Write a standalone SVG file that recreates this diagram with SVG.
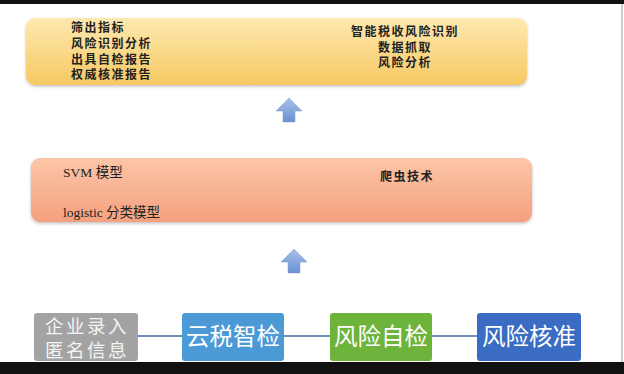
<svg xmlns="http://www.w3.org/2000/svg" width="624" height="374" viewBox="0 0 624 374">
<defs>
<linearGradient id="gy" x1="0" y1="0" x2="0" y2="1"><stop offset="0" stop-color="#fde9b0"/><stop offset="1" stop-color="#f7c862"/></linearGradient>
<linearGradient id="gs" x1="0" y1="0" x2="0" y2="1"><stop offset="0" stop-color="#fbc6a8"/><stop offset="1" stop-color="#f5a07e"/></linearGradient>
<linearGradient id="ga" x1="0" y1="0" x2="0" y2="1"><stop offset="0" stop-color="#a9c1ea"/><stop offset="1" stop-color="#6a8fd2"/></linearGradient>
<filter id="sh" x="-5%" y="-10%" width="110%" height="130%"><feDropShadow dx="0" dy="1.5" stdDeviation="1.5" flood-color="#000" flood-opacity="0.25"/></filter>
</defs>
<style>
.t{font-family:"Noto Sans CJK SC","Liberation Sans",sans-serif;font-size:12px;letter-spacing:1.5px;fill:#222;font-weight:600}
.s{font-family:"Liberation Serif","Noto Sans CJK SC",serif;font-size:13.5px;fill:#222}
.b{font-family:"Noto Sans CJK SC",sans-serif;font-size:23.5px;fill:#fff;text-anchor:middle}
.g{font-family:"Noto Sans CJK SC",sans-serif;font-size:18.5px;letter-spacing:2.5px;fill:#f4f4f4;text-anchor:middle}
.c{stroke:#6d8fb8;stroke-width:2;fill:none}
</style>
<rect width="624" height="374" fill="#fff"/>
<rect x="0" y="0" width="624" height="4" fill="#111"/>
<rect x="0" y="362" width="624" height="12" fill="#111"/>
<line x1="622" y1="4" x2="622" y2="362" stroke="#bbb" stroke-width="1.5"/>

<g id="top">
<rect x="26" y="18" width="501" height="67" rx="9" fill="url(#gy)" filter="url(#sh)"/>
<text class="t" x="71" y="32">筛出指标</text>
<text class="t" x="71" y="48">风险识别分析</text>
<text class="t" x="71" y="63.5">出具自检报告</text>
<text class="t" x="71" y="79">权威核准报告</text>
<text class="t" x="405" y="36" text-anchor="middle">智能税收风险识别</text>
<text class="t" x="405" y="51.5" text-anchor="middle">数据抓取</text>
<text class="t" x="405" y="67" text-anchor="middle">风险分析</text>
</g>

<g id="mid">
<rect x="31" y="158" width="501" height="64" rx="9" fill="url(#gs)" filter="url(#sh)"/>
<text class="s" x="63" y="177">SVM 模型</text>
<text class="t" x="380" y="181">爬虫技术</text>
<text class="s" x="63" y="217">logistic 分类模型</text>
</g>

<g id="arrow1"><polygon points="289,98 302,111 295,111 295,122 283,122 283,111 276,111" fill="url(#ga)" stroke="#7c98c8" stroke-width="0.5"/></g>
<g id="arrow2"><polygon points="294,249 307,262 300,262 300,273 288,273 288,262 281,262" fill="url(#ga)" stroke="#7c98c8" stroke-width="0.5"/></g>

<g id="connectors">
<line class="c" x1="137" y1="336" x2="182" y2="336"/>
<line class="c" x1="284" y1="336" x2="330" y2="336"/>
<line class="c" x1="432" y1="336" x2="477" y2="336"/>
</g>

<g id="n1"><rect x="34" y="313" width="104" height="48" rx="3" fill="#a3a3a3"/>
<text class="g" x="87" y="333">企业录入</text><text class="g" x="87" y="357">匿名信息</text></g>
<g id="n2"><rect x="182" y="313" width="102" height="48" rx="3" fill="#4b9ad6"/>
<text class="b" x="233" y="345">云税智检</text></g>
<g id="n3"><rect x="330" y="313" width="102" height="48" rx="3" fill="#6db33c"/>
<text class="b" x="381" y="345">风险自检</text></g>
<g id="n4"><rect x="477" y="313" width="104" height="48" rx="3" fill="#3a6cc4"/>
<text class="b" x="529" y="345">风险核准</text></g>
</svg>
